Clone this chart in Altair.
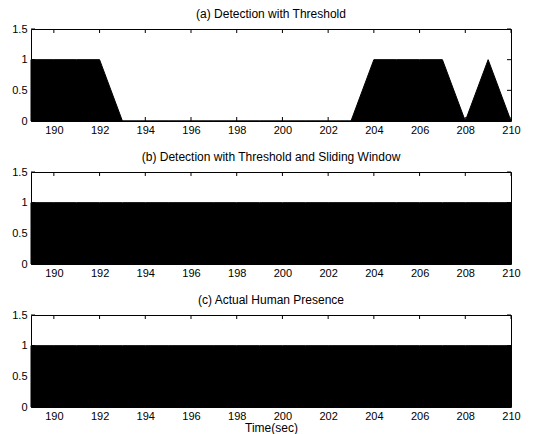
import altair as alt
import pandas as pd

times = list(range(189, 211))
vals_a = [1, 1, 1, 1, 0, 0, 0, 0, 0, 0, 0, 0, 0, 0, 0, 1, 1, 1, 1, 0, 1, 0]
vals_b = [1] * 22
vals_c = [1] * 22
titles = ["(a) Detection with Threshold",
          "(b) Detection with Threshold and Sliding Window",
          "(c) Actual Human Presence"]
xticks = list(range(190, 211, 2))
yticks = [0, 0.5, 1, 1.5]

W, H = 480, 92
TL = 4
FONT = "Liberation Sans"

xdf = pd.DataFrame({"t": xticks})
ydf = pd.DataFrame({"v": yticks})


def panel(vals, title, xtitle):
    df = pd.DataFrame({"t": times, "v": vals})
    xs = alt.Scale(domain=[189, 210], nice=False, zero=False)
    ys = alt.Scale(domain=[0, 1.5], nice=False)
    xax = alt.Axis(values=xticks, ticks=False, domain=False, grid=False,
                   labelPadding=3, title=xtitle, titlePadding=1, labelFlush=False)
    yax = alt.Axis(values=yticks, ticks=False, domain=False, grid=False,
                   labelPadding=4, title=None, labelFlush=False, format="~g")
    X = alt.X("t:Q", scale=xs, axis=xax)
    Y = alt.Y("v:Q", scale=ys, axis=yax)
    area = alt.Chart(df).mark_area(color="black", opacity=1, interpolate="linear",
                                   stroke="black", strokeWidth=1).encode(x=X, y=Y)
    xb = alt.Chart(xdf).mark_rule(color="black", strokeWidth=1).encode(
        x=X, y=alt.value(H), y2=alt.value(H - TL))
    xt = alt.Chart(xdf).mark_rule(color="black", strokeWidth=1).encode(
        x=X, y=alt.value(0), y2=alt.value(TL))
    yl = alt.Chart(ydf).mark_rule(color="black", strokeWidth=1).encode(
        y=Y, x=alt.value(0), x2=alt.value(TL))
    yr = alt.Chart(ydf).mark_rule(color="black", strokeWidth=1).encode(
        y=Y, x=alt.value(W), x2=alt.value(W - TL))
    return alt.layer(area, xb, xt, yl, yr).properties(
        width=W, height=H,
        title=alt.TitleParams(title, fontSize=12, font=FONT, fontWeight="normal",
                              offset=2, anchor="middle", color="black"))


chart = alt.vconcat(
    panel(vals_a, titles[0], None),
    panel(vals_b, titles[1], None),
    panel(vals_c, titles[2], "Time(sec)"),
    spacing=51, bounds="flush",
).properties(
    padding={"left": 11, "top": 7, "right": 5, "bottom": 0},
    background="white",
).configure_view(stroke="black", strokeWidth=1).configure_axis(
    labelFont=FONT, labelFontSize=11, labelColor="black",
    titleFont=FONT, titleFontSize=12, titleColor="black", titleFontWeight="normal",
)

chart.save("out.html", embed_options={"renderer": "svg", "actions": False})
